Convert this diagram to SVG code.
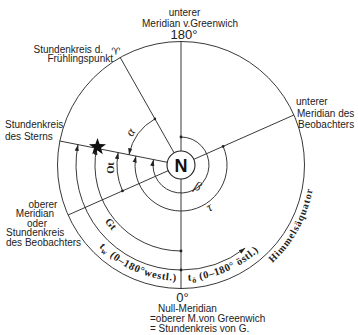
<svg xmlns="http://www.w3.org/2000/svg" width="358" height="335" viewBox="0 0 358 335">
<style>
.ln{fill:none;stroke:#222;stroke-width:0.9}
.arc{fill:none;stroke:#222;stroke-width:0.9}
.ar{marker-end:url(#ah)}
.dot{fill:#222}
.lb{font-family:"Liberation Sans",Arial,sans-serif;font-size:10px;fill:#222}
.big{font-family:"Liberation Sans",Arial,sans-serif;font-size:13px;fill:#222}
.ser{font-family:"Liberation Serif","Times New Roman",serif;font-size:10.5px;font-weight:bold;fill:#222}
.gr{font-family:"Liberation Serif","Times New Roman",serif;font-style:italic;font-size:13px;fill:#222}
.eq{font-family:"Liberation Serif","Times New Roman",serif;font-weight:bold;font-size:10px;fill:#222}
</style>
<defs>
<marker id="ah" markerWidth="7" markerHeight="5" refX="6.5" refY="2.5" orient="auto" markerUnits="userSpaceOnUse"><path d="M0,0.4 L6.5,2.5 L0,4.6 z" fill="#222"/></marker>
<path id="pw" d="M99.0,247.0 A116,116 0 0 0 185.0,280.9"/>
<path id="po" d="M188.1,280.8 A116,116 0 0 0 260.1,249.8"/>
<path id="pe" d="M272.4,263.0 A134,134 0 0 0 313.7,183.7"/>
</defs>
<g id="equator">
<circle cx="181" cy="165" r="123.5" class="ln" stroke-width="1.1"/>
<text class="eq" letter-spacing="1"><textPath href="#pe" textLength="86">Himmelsäquator</textPath></text>
</g>
<g id="connectors">
<line class="ln" x1="181" y1="41.5" x2="181" y2="288.5"/>
<line class="ln" x1="68.1" y1="215.0" x2="293.9" y2="115.0"/>
<line class="ln" x1="181" y1="165" x2="59.8" y2="141.0"/>
<line class="ln" x1="181" y1="165" x2="120.2" y2="57.5"/>
<path class="arc ar" d="M154.9,118.9 A53,53 0 0 0 129.0,154.7"/>
<path class="arc ar" d="M181,137 A28,28 0 1 1 153.5,159.6"/>
<path class="arc ar" d="M223.1,146.4 A46,46 0 1 1 135.9,156.1"/>
<path class="arc ar" d="M122.5,190.9 A64,64 0 0 1 118.2,152.6"/>
<path class="arc ar" d="M181,251 A86,86 0 0 1 96.6,148.3"/>
<path class="arc ar" d="M181,270 A105,105 0 0 1 78.0,144.6"/>
<path class="arc ar" d="M181,270 A105,105 0 0 0 245.2,248.1"/>
<circle class="dot" cx="154.9" cy="118.9" r="1.3"/>
<circle class="dot" cx="181" cy="137" r="1.4"/>
<circle class="dot" cx="223.1" cy="146.4" r="1.4"/>
<circle class="dot" cx="122.5" cy="190.9" r="1.4"/>
<circle class="dot" cx="181" cy="251" r="1.4"/>
<circle class="dot" cx="181" cy="270" r="1.4"/>
</g>
<g id="pole">
<circle cx="181" cy="165" r="14" fill="#fff" stroke="#222" stroke-width="1.1"/>
<text x="181" y="171.5" text-anchor="middle" font-family="Liberation Sans,Arial,sans-serif" font-weight="bold" font-size="18" fill="#111">N</text>
</g>
<g id="star">
<polygon fill="#111" points="97.5,138 99.62,144.09 106.06,144.22 100.92,148.11 102.79,154.28 97.5,150.6 92.21,154.28 94.08,148.11 88.94,144.22 95.38,144.09"/>
</g>
<g id="angle-labels">
<text class="gr" transform="translate(130,132) rotate(-60)" text-anchor="middle" dominant-baseline="central">α</text>
<text class="gr" font-size="14" transform="translate(198,186) rotate(22)" text-anchor="middle" dominant-baseline="central">β</text>
<text class="gr" transform="translate(209,207) rotate(-30)" text-anchor="middle" dominant-baseline="central">τ</text>
<text class="ser" transform="translate(110,168) rotate(-90)" text-anchor="middle" dominant-baseline="central">Ot</text>
<text class="ser" transform="translate(111,224) rotate(50)" text-anchor="middle" dominant-baseline="central">Gt</text>
<text class="ser"><textPath href="#pw" textLength="86">t<tspan font-size="8" dy="2.5">w</tspan><tspan dy="-2.5"> (0–180°westl.)</tspan></textPath></text>
<text class="ser"><textPath href="#po" textLength="78">t<tspan font-size="8" dy="2.5">ö</tspan><tspan dy="-2.5"> (0–180° östl.)</tspan></textPath></text>
</g>
<g id="label-top">
<text class="lb" x="184.5" y="15.5" text-anchor="middle">unterer</text>
<text class="lb" x="142" y="27" font-size="10.4">Meridian v.Greenwich</text>
<text class="big" x="184" y="39" text-anchor="middle">180°</text>
</g>
<g id="label-aries">
<text class="lb" x="103" y="53" text-anchor="end">Stundenkreis d.</text>
<text class="lb" x="113" y="61.5" text-anchor="end">Frühlingspunkt</text>
<text x="116" y="55" text-anchor="middle" font-family="DejaVu Sans,sans-serif" font-size="10" fill="#222">♈</text>
</g>
<g id="label-star">
<text class="lb" x="5" y="128">Stundenkreis</text>
<text class="lb" x="5" y="139.5">des Sterns</text>
</g>
<g id="label-lower-meridian">
<text class="lb" x="296" y="105">unterer</text>
<text class="lb" x="297" y="116.5">Meridian des</text>
<text class="lb" x="298" y="127.5">Beobachters</text>
</g>
<g id="label-upper-meridian">
<text class="lb" x="43" y="207.5" text-anchor="middle">oberer</text>
<text class="lb" x="35" y="217" text-anchor="middle">Meridian</text>
<text class="lb" x="37" y="226.5" text-anchor="middle">oder</text>
<text class="lb" x="6" y="236">Stundenkreis</text>
<text class="lb" x="6" y="245.5">des Beobachters</text>
</g>
<g id="label-bottom">
<text class="big" x="182.5" y="301.5" text-anchor="middle" font-size="12.5">0°</text>
<text class="lb" x="158" y="311.5" font-size="9.8">Null-Meridian</text>
<text class="lb" x="150" y="321.5" font-size="9.5">=oberer M.von Greenwich</text>
<text class="lb" x="150" y="332" font-size="9.8">= Stundenkreis von G.</text>
</g>
</svg>
